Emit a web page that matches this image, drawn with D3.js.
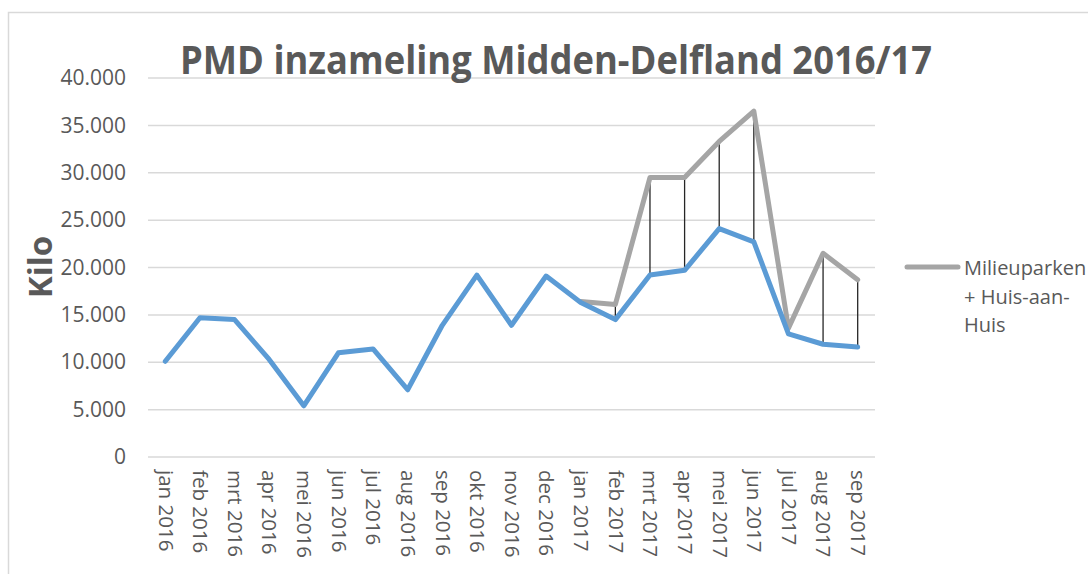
<!DOCTYPE html>
<html><head><meta charset="utf-8">
<script src="https://cdn.jsdelivr.net/npm/d3@7"></script>
<style>html,body{margin:0;padding:0;background:#fff;overflow:hidden}</style>
</head><body>
<svg id="chart" width="1088" height="574"></svg>
<script>
const categories = ["jan 2016","feb 2016","mrt 2016","apr 2016","mei 2016","jun 2016","jul 2016","aug 2016","sep 2016","okt 2016","nov 2016","dec 2016","jan 2017","feb 2017","mrt 2017","apr 2017","mei 2017","jun 2017","jul 2017","aug 2017","sep 2017"];
const blueValues = [10100,14700,14500,10300,5400,11000,11400,7100,13900,19200,13900,19100,16300,14500,19200,19700,24100,22700,13000,11900,11600];
const greyValues = [null,null,null,null,null,null,null,null,null,null,null,null,16400,16100,29500,29500,33300,36500,13600,21500,18700];
const yTicks = [0,5000,10000,15000,20000,25000,30000,35000,40000];
const titleText = "PMD inzameling Midden-Delfland 2016/17";
const yAxisTitle = "Kilo";
const legendLines = ["Milieuparken","+ Huis-aan-","Huis"];

const svg = d3.select("#chart");
const txt = "#595959";
const font = "'Open Sans', sans-serif";

// chart border
svg.append("path").attr("d","M8.5,574 V12.5 H1088").attr("fill","none").attr("stroke","#D9D9D9").attr("stroke-width",1.5);

const x = d3.scalePoint().domain(categories).range([148,875]).padding(0.5);
const y = d3.scaleLinear().domain([0,40000]).range([457,78]);
const loc = d3.formatLocale({decimal:",",thousands:".",grouping:[3],currency:["",""]});
const fmt = loc.format(",");

// gridlines
svg.append("g").selectAll("line").data(yTicks).join("line")
  .attr("x1",148).attr("x2",875).attr("y1",d=>y(d)).attr("y2",d=>y(d))
  .attr("stroke","#D9D9D9").attr("stroke-width",1.5);

// y axis
const yAxis = d3.axisLeft(y).tickValues(yTicks).tickFormat(fmt).tickSize(0).tickPadding(22);
const yg = svg.append("g").attr("transform","translate(148,0)").call(yAxis);
yg.select(".domain").remove();
yg.selectAll("text").attr("fill",txt).style("font-family",font).style("font-size","21px");

// x axis
const xAxis = d3.axisBottom(x).tickSize(0).tickPadding(0);
const xg = svg.append("g").attr("transform","translate(0,457)").call(xAxis);
xg.select(".domain").remove();
xg.selectAll("text").attr("fill",txt).style("font-family",font).style("font-size","20.5px")
  .attr("transform","rotate(90)").attr("text-anchor","start").attr("x",13).attr("y",0).attr("dy","0.35em");

// high-low lines
const pairs = categories.map((c,i)=>({c,b:blueValues[i],g:greyValues[i]})).filter(d=>d.g!=null);
svg.append("g").selectAll("line").data(pairs).join("line")
  .attr("x1",d=>x(d.c)).attr("x2",d=>x(d.c)).attr("y1",d=>y(d.g)).attr("y2",d=>y(d.b))
  .attr("stroke","#262626").attr("stroke-width",1.3);

const line = d3.line().defined(d=>d.v!=null).x(d=>x(d.c)).y(d=>y(d.v));
svg.append("path").datum(categories.map((c,i)=>({c,v:greyValues[i]})))
  .attr("d",line).attr("fill","none").attr("stroke","#A5A5A5").attr("stroke-width",5).attr("stroke-linejoin","round").attr("stroke-linecap","round");
svg.append("path").datum(categories.map((c,i)=>({c,v:blueValues[i]})))
  .attr("d",line).attr("fill","none").attr("stroke","#5B9BD5").attr("stroke-width",5).attr("stroke-linejoin","round").attr("stroke-linecap","round");

// title
svg.append("text").attr("x",180).attr("y",74).text(titleText)
  .attr("fill",txt).style("font-family",font).style("font-weight","bold").style("font-size","40px")
  .attr("textLength",752).attr("lengthAdjust","spacingAndGlyphs");

// y axis title
svg.append("text").attr("transform","translate(52,267) rotate(-90)").attr("text-anchor","middle")
  .text(yAxisTitle).attr("fill",txt).style("font-family",font).style("font-weight","bold").style("font-size","33px");

// legend
svg.append("line").attr("x1",907).attr("x2",958).attr("y1",267).attr("y2",267)
  .attr("stroke","#A5A5A5").attr("stroke-width",5).attr("stroke-linecap","round");
svg.append("g").selectAll("text").data(legendLines).join("text")
  .attr("x",964).attr("y",(d,i)=>275+i*28.5).text(d=>d)
  .attr("fill",txt).style("font-family",font).style("font-size","20px");
</script>
</body></html>
